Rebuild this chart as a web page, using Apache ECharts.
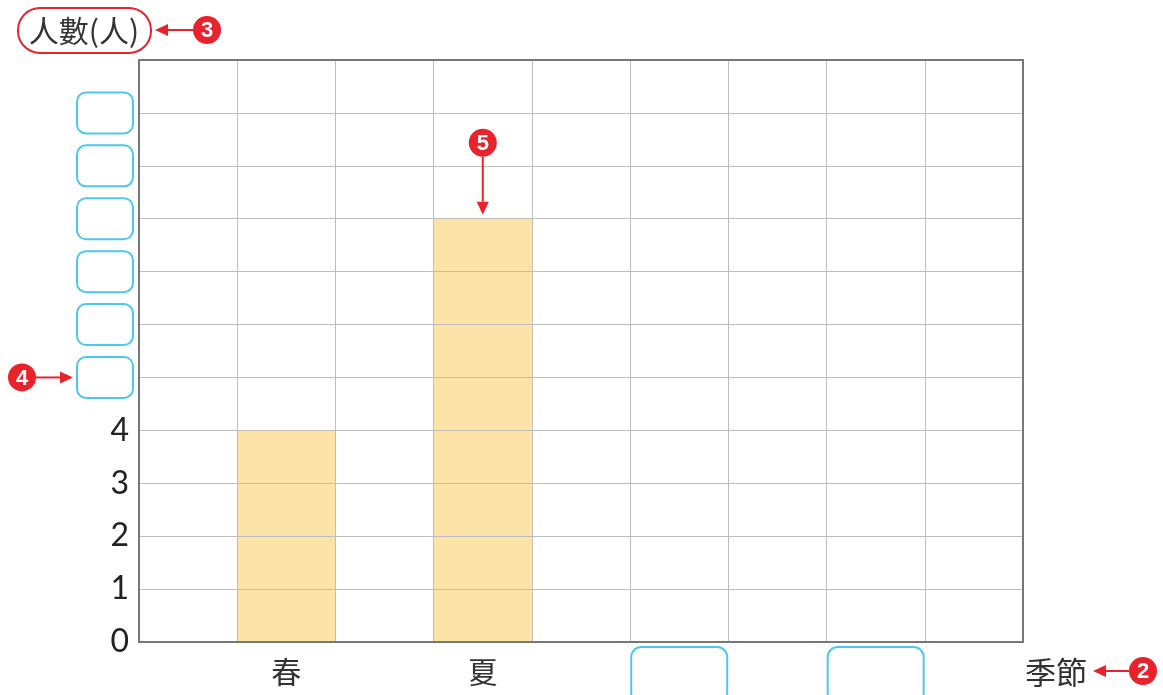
<!DOCTYPE html>
<html><head><meta charset="utf-8">
<script src="https://cdn.jsdelivr.net/npm/echarts@6/dist/echarts.min.js"></script>
<style>html,body{margin:0;padding:0;background:#fff}#c{width:1163px;height:695px}</style>
</head><body><div id="c"></div>
<script>
const categories = ['', '春', '', '夏', '', '', '', '', ''];
const blankCategoryIndex = [5, 7];
const peopleCounts = [null, 4, null, 8, null, null, null, null, null];
const yTickLabels = ['0', '1', '2', '3', '4'];
const blankYTicks = [5, 6, 7, 8, 9, 10];
const yMax = 11;
const xAxisName = '季節';
const yAxisName = '人數(人)';

const RED = '#e8232b', BLUE = '#4cc8ee', GRIDC = '#bdbdbd', AXISC = '#777';
const CJK = '"Noto Sans CJK TC","Noto Sans CJK SC",sans-serif';
const NUMF = 'Lato, "Open Sans", sans-serif';

const chart = echarts.init(document.getElementById('c'), null, {renderer: 'canvas'});
chart.setOption({
  animation: false,
  backgroundColor: '#fff',
  grid: {left: 139, top: 60, width: 884, height: 582, show: true, z: 10,
    outerBoundsMode: 'none', containLabel: false,
    backgroundColor: 'rgba(0,0,0,0)', borderColor: AXISC, borderWidth: 2},
  xAxis: {
    type: 'category', data: categories, boundaryGap: true, z: 3,
    axisLine: {show: false}, axisTick: {show: false},
    splitLine: {show: true, interval: 0, lineStyle: {color: GRIDC, width: 1}},
    axisLabel: {
      interval: 0, margin: 5, hideOverlap: false,
      formatter: function (v, i) {
        if (blankCategoryIndex.indexOf(i) >= 0) return '{box| }';
        return v ? '{cat|' + v + '}' : '';
      },
      rich: {
        cat: {fontSize: 30, lineHeight: 50, color: '#333', fontFamily: CJK},
        box: {width: 96, height: 56, borderColor: BLUE, borderWidth: 2, borderRadius: 10}
      }
    }
  },
  yAxis: {
    type: 'value', min: 0, max: yMax, interval: 1, z: 3,
    axisLine: {show: false}, axisTick: {show: false},
    splitLine: {show: true, lineStyle: {color: GRIDC, width: 1}},
    axisLabel: {
      margin: 6,
      formatter: function (v) {
        if (v < yTickLabels.length) return '{num|' + yTickLabels[v] + '}';
        if (blankYTicks.indexOf(v) >= 0) return '{box| }';
        return '';
      },
      rich: {
        num: {fontSize: 32, color: '#222', fontFamily: NUMF, padding: [0, 4, 0, 0]},
        box: {width: 56, height: 41, borderColor: BLUE, borderWidth: 2, borderRadius: 9}
      }
    }
  },
  series: [{
    type: 'bar', data: peopleCounts, barWidth: '100%', z: 2,
    itemStyle: {color: '#fde3a8'}
  }]
});

function arrow(x1, y1, x2, y2) {
  const dx = x2 - x1, dy = y2 - y1, L = Math.hypot(dx, dy);
  const ux = dx / L, uy = dy / L, hl = 13, hw = 6;
  const bx = x2 - ux * hl, by = y2 - uy * hl;
  return [
    {type: 'line', shape: {x1: x1, y1: y1, x2: bx, y2: by}, style: {stroke: RED, lineWidth: 2}, z: 20},
    {type: 'polygon', shape: {points: [[x2, y2], [bx - uy * hw, by + ux * hw], [bx + uy * hw, by - ux * hw]]},
      style: {fill: RED}, z: 20}
  ];
}
function badge(cx, cy, n) {
  return [
    {type: 'circle', shape: {cx: cx, cy: cy, r: 14}, style: {fill: RED}, z: 20},
    {type: 'text', x: cx, y: cy + 1, z: 21, style: {text: String(n), fill: '#fff', fontSize: 22,
      fontWeight: 'bold', fontFamily: 'Liberation Sans, Arial, sans-serif', align: 'center', verticalAlign: 'middle'}}
  ];
}

const top5 = chart.convertToPixel({seriesIndex: 0}, [3, peopleCounts[3]]);
const y5 = chart.convertToPixel({yAxisIndex: 0}, blankYTicks[0]);
const gfx = [];
gfx.push({type: 'rect', shape: {x: 18, y: 8, width: 133, height: 45, r: 22},
  style: {fill: 'none', stroke: RED, lineWidth: 2}, z: 20});
gfx.push({type: 'text', x: 84, y: 31, z: 20, style: {text: yAxisName, fontSize: 30, fill: '#333',
  fontFamily: CJK, align: 'center', verticalAlign: 'middle'}});
gfx.push(...arrow(193, 30, 155, 30), ...badge(207, 30, 3));
gfx.push(...arrow(36, y5, 73, y5), ...badge(22, y5, 4));
gfx.push(...arrow(top5[0], top5[1] - 62, top5[0], top5[1] - 4), ...badge(top5[0], top5[1] - 76, 5));
gfx.push({type: 'text', x: 1056, y: 672, z: 20, style: {text: xAxisName, fontSize: 31, fill: '#333',
  fontFamily: CJK, align: 'center', verticalAlign: 'middle'}});
gfx.push(...arrow(1130, 671, 1093, 671), ...badge(1143, 671, 2));
chart.setOption({graphic: gfx});
</script></body></html>
